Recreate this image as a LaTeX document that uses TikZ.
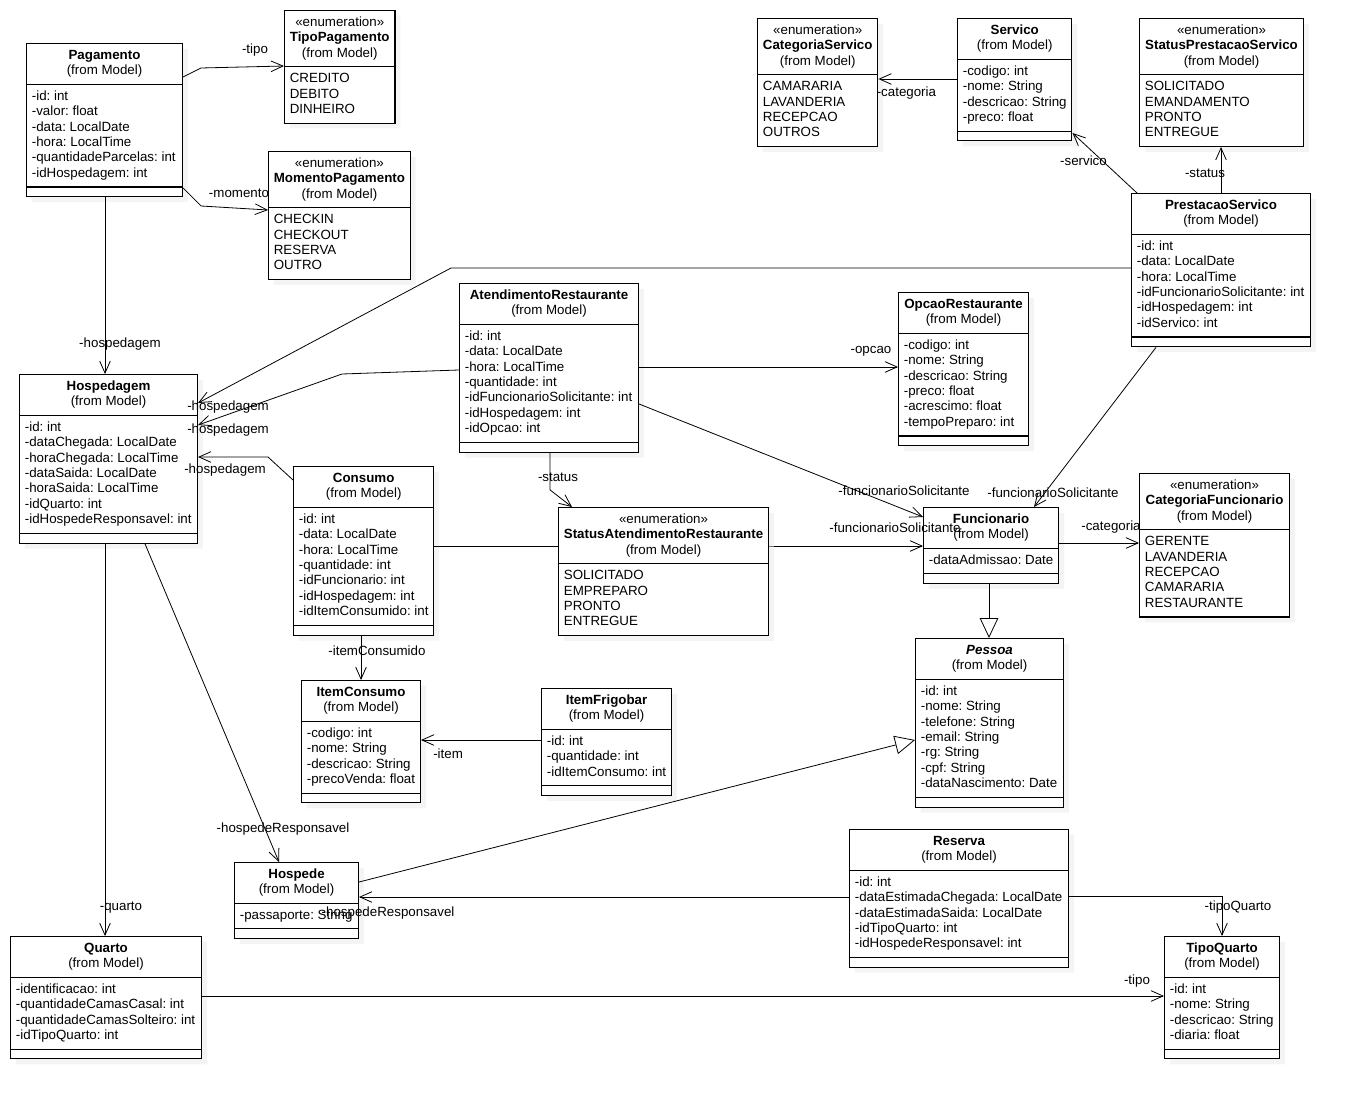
\documentclass[tikz,border=0pt]{standalone}
\usepackage{fontspec}
\setmainfont{Liberation Sans}
\usetikzlibrary{shapes.multipart,arrows.meta,shadows}
\frenchspacing

\newcommand{\umlclass}[1]{\begin{tabular}{@{}c@{}}\textbf{#1}\\(from Model)\end{tabular}}
\newcommand{\umlenum}[1]{\begin{tabular}{@{}c@{}}«enumeration»\\\textbf{#1}\\(from Model)\end{tabular}}
\newcommand{\umlattr}[1]{\begin{tabular}{@{}l@{}}#1\end{tabular}}
\newcommand{\umlops}{\rule{1pt}{0pt}}

\begin{document}
\begin{tikzpicture}[x=0.75pt,y=-0.75pt]

%
% Styles
%
\tikzstyle{classbox} = [rectangle split, rectangle split parts=3, rectangle split part align={center,left,left}, draw, fill=white, line width=0.8pt, inner xsep=4pt, inner ysep=3.3pt, anchor=north west, font=\fontsize{10}{11.6}\selectfont, drop shadow={shadow xshift=4pt, shadow yshift=-4pt, fill=black!8}]
\tikzstyle{enumbox} = [classbox, rectangle split parts=2]
\tikzstyle{assoc} = [-{Straight Barb[length=9pt,width=8pt]}, line width=0.6pt]
\tikzstyle{gen} = [-{Triangle[open,length=15pt,width=14pt,fill=white]}, line width=0.6pt]
\tikzset{boxw/.style={minimum width=#1*0.75pt},
  lbl/.style 2 args={font=\fontsize{10}{11.6}\selectfont, inner sep=0pt, xshift=#1*0.75pt, yshift=#2*-0.75pt}}

\path[use as bounding box, fill=white] (0,0) rectangle (1351,1098);

%
% Classes
%
\node[classbox, boxw=156] (pag) at (26,43) {\umlclass{Pagamento}\nodepart{two}\umlattr{-id: int\\-valor: float\\-data: LocalDate\\-hora: LocalTime\\-quantidadeParcelas: int\\-idHospedagem: int}\nodepart{three}\umlops};
\node[enumbox, boxw=110] (tpag) at (284,10) {\umlenum{TipoPagamento}\nodepart{two}\umlattr{CREDITO\\DEBITO\\DINHEIRO}};
\node[enumbox, boxw=141] (mpag) at (268,151) {\umlenum{MomentoPagamento}\nodepart{two}\umlattr{CHECKIN\\CHECKOUT\\RESERVA\\OUTRO}};
\node[enumbox, boxw=120] (catserv) at (757,18) {\umlenum{CategoriaServico}\nodepart{two}\umlattr{CAMARARIA\\LAVANDERIA\\RECEPCAO\\OUTROS}};
\node[classbox, boxw=114] (serv) at (957,18) {\umlclass{Servico}\nodepart{two}\umlattr{-codigo: int\\-nome: String\\-descricao: String\\-preco: float}\nodepart{three}\umlops};
\node[enumbox, boxw=164] (stps) at (1139,18) {\umlenum{StatusPrestacaoServico}\nodepart{two}\umlattr{SOLICITADO\\EMANDAMENTO\\PRONTO\\ENTREGUE}};
\node[classbox, boxw=179] (prest) at (1131,193) {\umlclass{PrestacaoServico}\nodepart{two}\umlattr{-id: int\\-data: LocalDate\\-hora: LocalTime\\-idFuncionarioSolicitante: int\\-idHospedagem: int\\-idServico: int}\nodepart{three}\umlops};
\node[classbox, boxw=178] (hosp) at (19,374) {\umlclass{Hospedagem}\nodepart{two}\umlattr{-id: int\\-dataChegada: LocalDate\\-horaChegada: LocalTime\\-dataSaida: LocalDate\\-horaSaida: LocalTime\\-idQuarto: int\\-idHospedeResponsavel: int}\nodepart{three}\umlops};
\node[classbox, boxw=179] (atend) at (459,283) {\umlclass{AtendimentoRestaurante}\nodepart{two}\umlattr{-id: int\\-data: LocalDate\\-hora: LocalTime\\-quantidade: int\\-idFuncionarioSolicitante: int\\-idHospedagem: int\\-idOpcao: int}\nodepart{three}\umlops};
\node[classbox, boxw=130] (opcao) at (898,292) {\umlclass{OpcaoRestaurante}\nodepart{two}\umlattr{-codigo: int\\-nome: String\\-descricao: String\\-preco: float\\-acrescimo: float\\-tempoPreparo: int}\nodepart{three}\umlops};
\node[classbox, boxw=140] (cons) at (293,466) {\umlclass{Consumo}\nodepart{two}\umlattr{-id: int\\-data: LocalDate\\-hora: LocalTime\\-quantidade: int\\-idFuncionario: int\\-idHospedagem: int\\-idItemConsumido: int}\nodepart{three}\umlops};
\node[classbox, boxw=135] (func) at (923,507) {\umlclass{Funcionario}\nodepart{two}\umlattr{-dataAdmissao: Date}\nodepart{three}\umlops};
\node[enumbox, boxw=150] (catfunc) at (1139,473) {\umlenum{CategoriaFuncionario}\nodepart{two}\umlattr{GERENTE\\LAVANDERIA\\RECEPCAO\\CAMARARIA\\RESTAURANTE}};
\node[classbox, boxw=148] (pessoa) at (915,638) {\umlclass{\textit{Pessoa}}\nodepart{two}\umlattr{-id: int\\-nome: String\\-telefone: String\\-email: String\\-rg: String\\-cpf: String\\-dataNascimento: Date}\nodepart{three}\umlops};
\node[classbox, boxw=119] (itemc) at (301,680) {\umlclass{ItemConsumo}\nodepart{two}\umlattr{-codigo: int\\-nome: String\\-descricao: String\\-precoVenda: float}\nodepart{three}\umlops};
\node[classbox, boxw=130] (itemf) at (541,688) {\umlclass{ItemFrigobar}\nodepart{two}\umlattr{-id: int\\-quantidade: int\\-idItemConsumo: int}\nodepart{three}\umlops};
\node[classbox, boxw=124] (hospede) at (234,862) {\umlclass{Hospede}\nodepart{two}\umlattr{-passaporte: String}\nodepart{three}\umlops};
\node[classbox, boxw=219] (reserva) at (849,829) {\umlclass{Reserva}\nodepart{two}\umlattr{-id: int\\-dataEstimadaChegada: LocalDate\\-dataEstimadaSaida: LocalDate\\-idTipoQuarto: int\\-idHospedeResponsavel: int}\nodepart{three}\umlops};
\node[classbox, boxw=191] (quarto) at (10,936) {\umlclass{Quarto}\nodepart{two}\umlattr{-identificacao: int\\-quantidadeCamasCasal: int\\-quantidadeCamasSolteiro: int\\-idTipoQuarto: int}\nodepart{three}\umlops};
\node[classbox, boxw=115] (tquarto) at (1164,936) {\umlclass{TipoQuarto}\nodepart{two}\umlattr{-id: int\\-nome: String\\-descricao: String\\-diaria: float}\nodepart{three}\umlops};

% this one runs under the status enumeration
\draw[assoc] (cons.east |- 0,546) -- (func.west |- 0,546) node[lbl={-28}{-18}, at end] {-funcionarioSolicitante};

\node[enumbox, boxw=210] (stat) at (558,507) {\umlenum{StatusAtendimentoRestaurante}\nodepart{two}\umlattr{SOLICITADO\\EMPREPARO\\PRONTO\\ENTREGUE}};

%
% Connectors
%
\draw[assoc] (pag.east |- 0,77) -- ++(18,-9) -- (tpag.west |- 0,66) node[lbl={-29}{-16}, at end] {-tipo};
\draw[assoc] (pag.east |- 0,188) -- ++(18,18) -- (mpag.west |- 0,210) node[lbl={-29}{-17}, at end] {-momento};
\draw[assoc] (pag.south -| 105,0) -- (hosp.north -| 105,0) node[lbl={15}{-30}, at end] {-hospedagem};
\draw[assoc] (prest.west |- 0,268) -- (451,268) -- (hosp.east |- 0,403) node[lbl={30}{4}, at end] {-hospedagem};
\draw[assoc] (atend.west |- 0,370) -- (342,374) -- (hosp.east |- 0,425) node[lbl={30}{5}, at end] {-hospedagem};
\draw[assoc] (cons.west |- 0,480) -- (268,457) -- (hosp.east |- 0,457) node[lbl={27}{13}, at end] {-hospedagem};
\draw[assoc] (hosp.south -| 105,0) -- (quarto.north -| 105,0) node[lbl={16}{-28}, at end] {-quarto};
\draw[assoc] (hosp.south -| 145,0) -- (hospede.north -| 279,0) node[lbl={4}{-33}, at end] {-hospedeResponsavel};
\draw[assoc] (atend.south -| 550,0) -- ++(0,37) -- (stat.north -| 572,0) node[lbl={-14}{-30}, at end] {-status};
\draw[assoc] (atend.east |- 0,367) -- (opcao.west |- 0,367) node[lbl={-27}{-16}, at end] {-opcao};
\draw[assoc] (atend.east |- 0,404) -- (func.west |- 0,517) node[lbl={-19}{-26}, at end] {-funcionarioSolicitante};
\draw[assoc] (prest.south -| 1156,0) -- (func.north -| 1034,0) node[lbl={19}{-14}, at end] {-funcionarioSolicitante};
\draw[assoc] (prest.north -| 1137,0) -- (serv.east |- 0,133) node[lbl={11}{28}, at end] {-servico};
\draw[assoc] (prest.north -| 1221,0) -- (stps.south -| 1221,0) node[lbl={-16}{26}, at end] {-status};
\draw[assoc] (serv.west |- 0,79) -- (catserv.east |- 0,79) node[lbl={28}{14}, at end] {-categoria};
\draw[assoc] (func.east |- 0,543) -- (catfunc.west |- 0,543) node[lbl={-28}{-16}, at end] {-categoria};
\draw[gen] (func.south -| 989,0) -- (pessoa.north -| 989,0);
\draw[gen] (hospede.east |- 0,882) -- (pessoa.west |- 0,740);
\draw[assoc] (cons.south -| 361,0) -- (itemc.north -| 361,0) node[lbl={16}{-29}, at end] {-itemConsumido};
\draw[assoc] (itemf.west |- 0,740) -- (itemc.east |- 0,740) node[lbl={27}{14}, at end] {-item};
\draw[assoc] (reserva.west |- 0,897) -- (hospede.east |- 0,897) node[lbl={29}{16}, at end] {-hospedeResponsavel};
\draw[assoc] (reserva.east |- 0,896) -| (tquarto.north -| 1222,0) node[lbl={16}{-29}, at end] {-tipoQuarto};
\draw[assoc] (quarto.east |- 0,996) -- (tquarto.west |- 0,996) node[lbl={-27}{-15}, at end] {-tipo};

\end{tikzpicture}
\end{document}
